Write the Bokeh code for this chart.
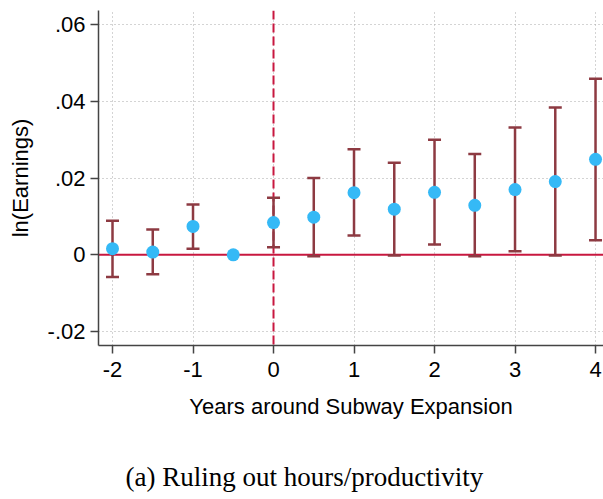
from bokeh.plotting import figure
from bokeh.models import (ColumnDataSource, Whisker, TeeHead, Span, Title,
                          FixedTicker, Range1d)
from bokeh.embed import file_html
from bokeh.resources import INLINE

# ---- data ----
years = [-2, -1.5, -1, -0.5, 0, 0.5, 1, 1.5, 2, 2.5, 3, 3.5, 4]
coef = [0.0016, 0.0007, 0.0074, 0.0, 0.0084, 0.0098, 0.0162, 0.0119, 0.0163, 0.0129, 0.0170, 0.0191, 0.0249]
ci_hi = [0.0089, 0.0066, 0.0131, None, 0.0149, 0.0200, 0.0275, 0.0240, 0.0300, 0.0263, 0.0332, 0.0384, 0.0459]
ci_lo = [-0.0058, -0.0051, 0.0016, None, 0.0020, -0.0004, 0.0050, -0.0002, 0.0027, -0.0004, 0.0009, -0.0002, 0.0038]
x_ticks = [-2, -1, 0, 1, 2, 3, 4]
y_ticks = [-0.02, 0, 0.02, 0.04, 0.06]
y_tick_labels = {-0.02: "-.02", 0: "0", 0.02: ".02", 0.04: ".04", 0.06: ".06"}
x_label = "Years around Subway Expansion"
y_label = "ln(Earnings)"
caption = "(a) Ruling out hours/productivity"

FONT = "Liberation Sans"
BAR = "#8d3a42"
DOT = "#35b9f6"
RED = "#c8173f"

p = figure(width=603, height=499, output_backend="svg", toolbar_location=None,
           x_range=Range1d(-2.174, 4.099), y_range=Range1d(-0.02365, 0.0637),
           min_border_left=98, min_border_right=0, min_border_top=10,
           min_border_bottom=154)
p.outline_line_color = None
p.background_fill_color = "white"
p.border_fill_color = "white"

# grid
for g in (p.xgrid, p.ygrid):
    g.grid_line_color = "#a8a8a8"
    g.grid_line_dash = "1 3"
    g.grid_line_width = 1
p.xgrid.ticker = FixedTicker(ticks=x_ticks)
p.ygrid.ticker = FixedTicker(ticks=y_ticks)

# reference lines
p.add_layout(Span(location=0, dimension="width", line_color=RED, line_width=2, level="underlay"))
p.add_layout(Span(location=0, dimension="height", line_color=RED, line_width=2,
                  line_dash="9 4", level="underlay"))

# points
src = ColumnDataSource(dict(x=years, y=coef))
p.scatter("x", "y", source=src, size=13, fill_color=DOT, line_color=None)

# error bars
ex = [x for x, h in zip(years, ci_hi) if h is not None]
eh = [h for h in ci_hi if h is not None]
el = [l for l in ci_lo if l is not None]
esrc = ColumnDataSource(dict(x=ex, upper=eh, lower=el))
w = Whisker(base="x", upper="upper", lower="lower", source=esrc, dimension="height",
            line_color=BAR, line_width=2.5,
            upper_head=TeeHead(size=13, line_color=BAR, line_width=2.5),
            lower_head=TeeHead(size=13, line_color=BAR, line_width=2.5))
p.add_layout(w)

# axes
p.xaxis.ticker = FixedTicker(ticks=x_ticks)
p.yaxis.ticker = FixedTicker(ticks=y_ticks)
p.yaxis.major_label_overrides = y_tick_labels
p.xaxis.major_label_overrides = {t: str(t) for t in x_ticks}
for ax in (p.xaxis[0], p.yaxis[0]):
    ax.axis_line_color = "#444444"
    ax.axis_line_width = 1.5
    ax.major_tick_line_color = "#444444"
    ax.major_tick_line_width = 1.5
    ax.major_tick_out = 8
    ax.major_tick_in = 0
    ax.minor_tick_line_color = None
    ax.major_label_text_font = FONT
    ax.major_label_text_font_size = "22px"
    ax.major_label_text_color = "black"
    ax.axis_label_text_font = FONT
    ax.axis_label_text_font_size = "22px"
    ax.axis_label_text_font_style = "normal"
    ax.axis_label_text_color = "black"
p.xaxis.axis_label = x_label
p.yaxis.axis_label = y_label
p.xaxis.major_label_standoff = 8
p.yaxis.major_label_standoff = 5
p.xaxis.axis_label_standoff = 14
p.yaxis.axis_label_standoff = 12

# spacer + caption below the x axis
p.add_layout(Title(text=" ", text_font_size="2px", standoff=34), "below")
p.add_layout(Title(text=caption, align="left", offset=27, standoff=0,
                   text_font="Liberation Serif", text_font_size="27px",
                   text_font_style="normal", text_color="black"), "below")

open("out.html", "w").write(file_html(p, INLINE))
